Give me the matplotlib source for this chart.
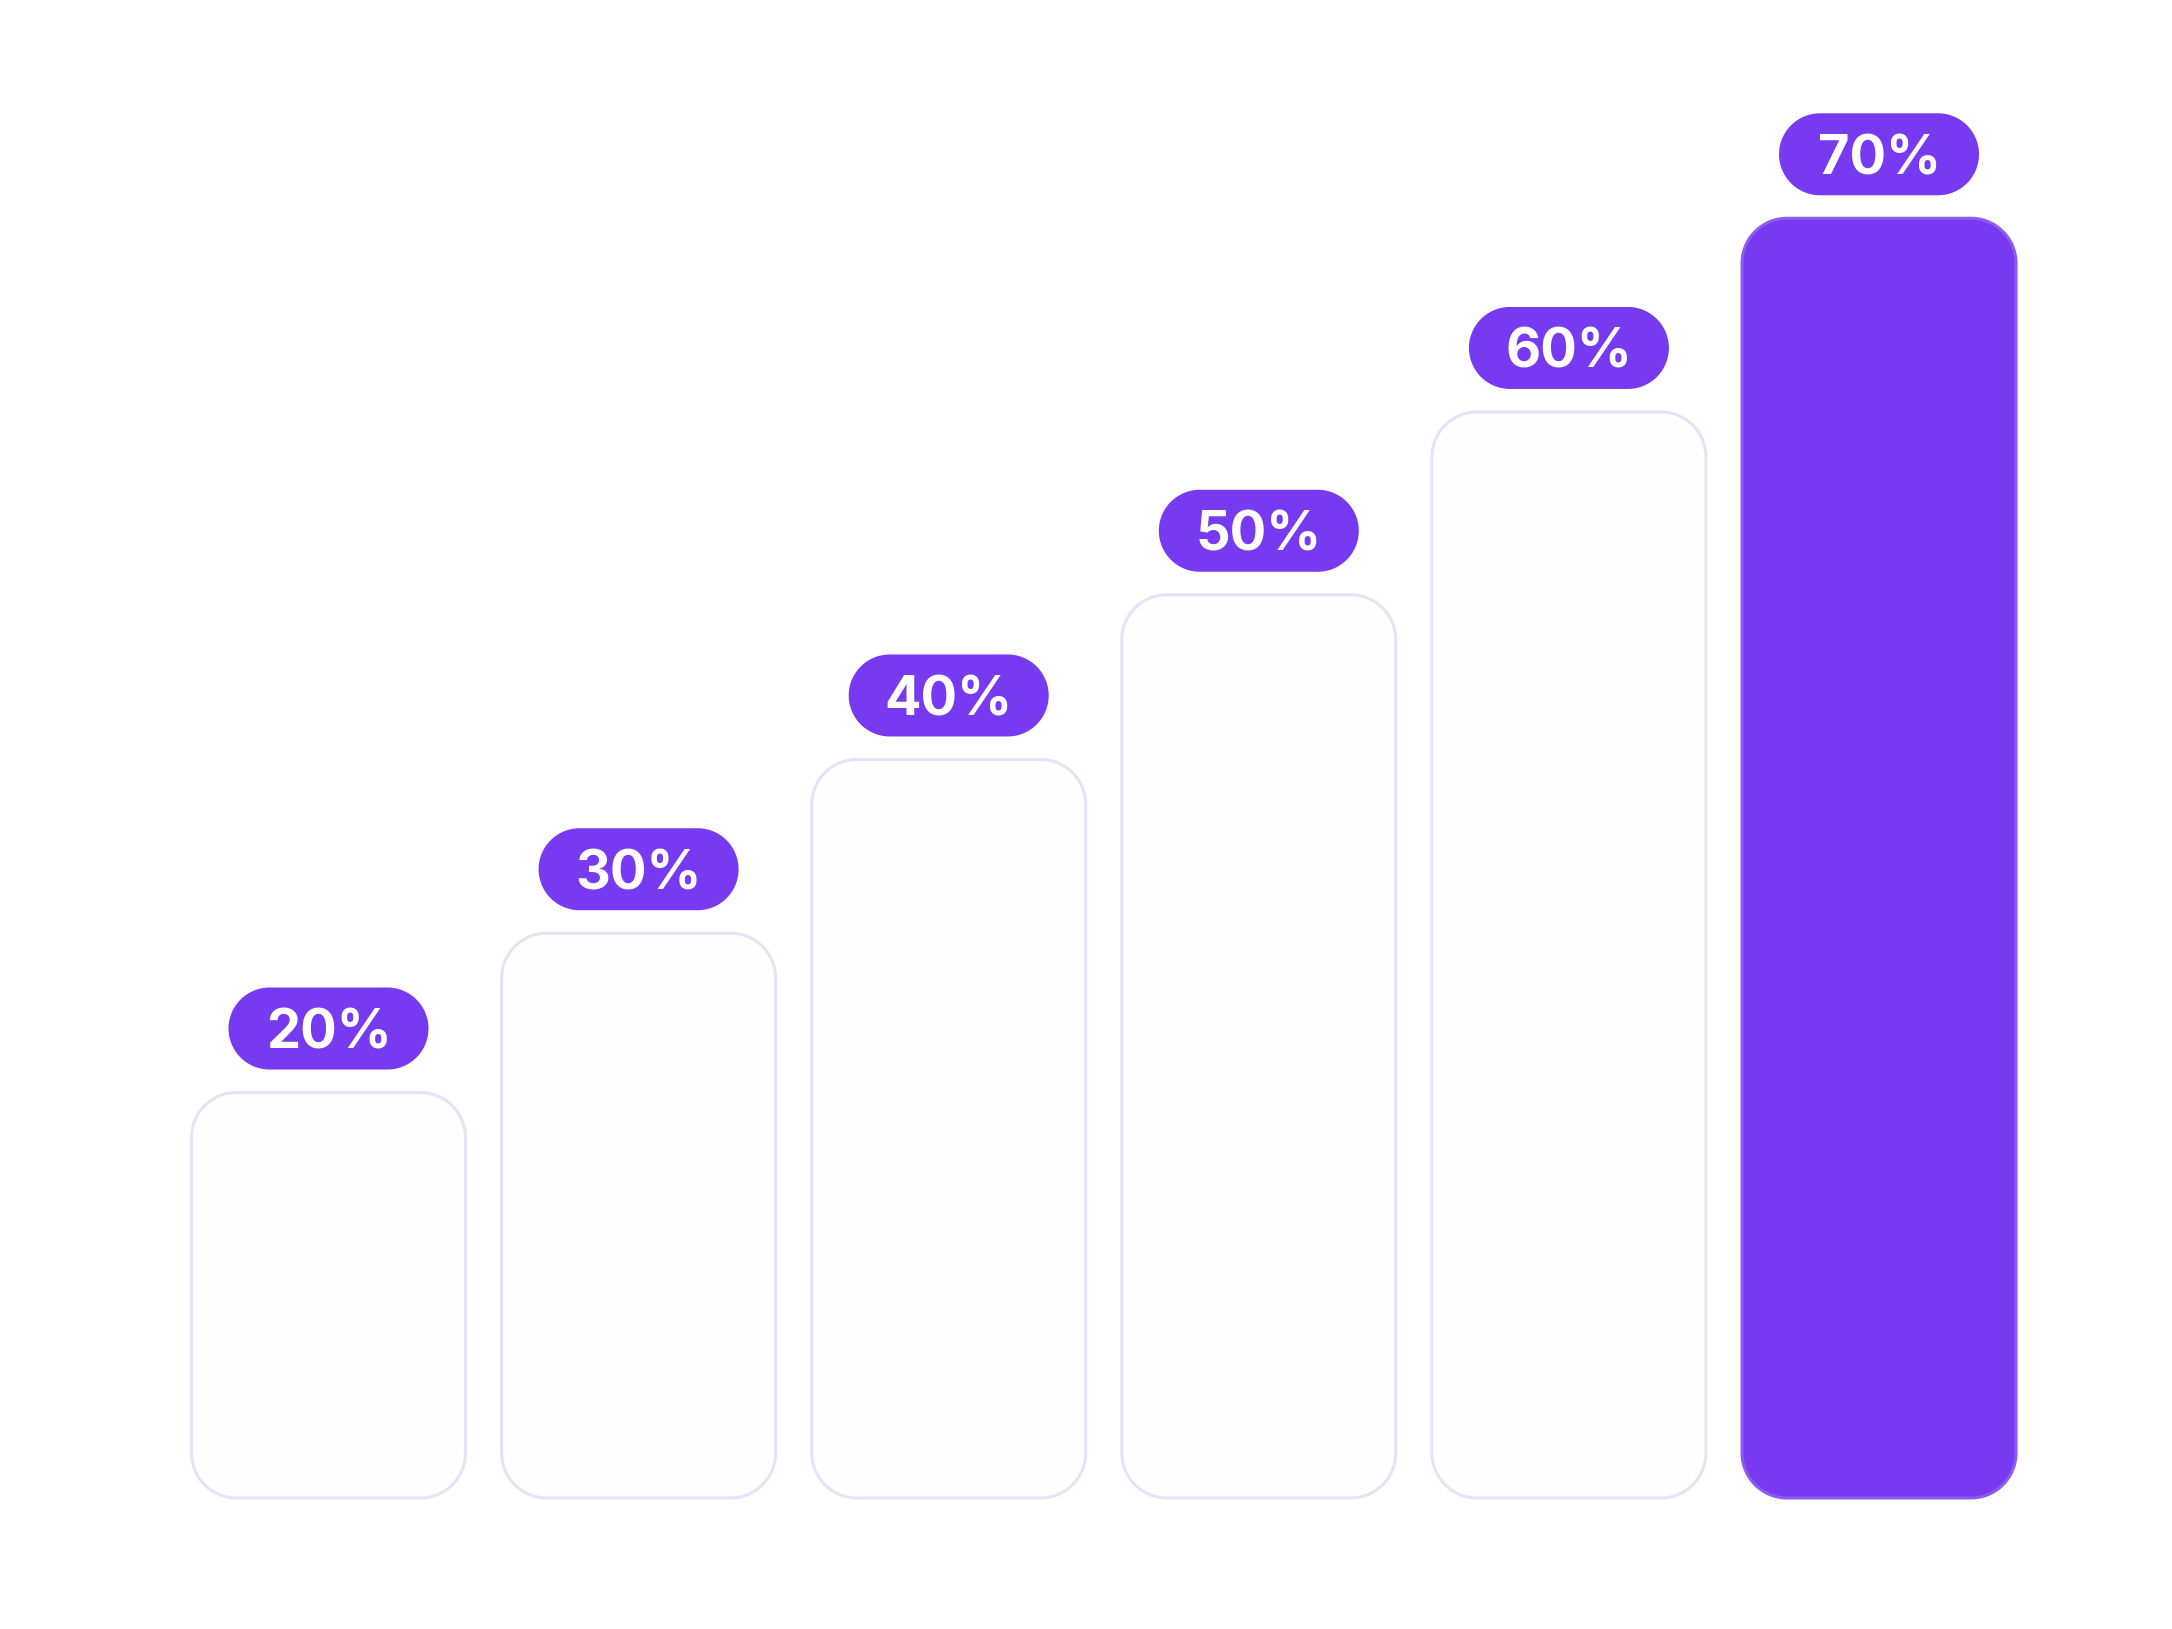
import numpy as np
import matplotlib.pyplot as plt
from matplotlib.patches import Polygon

# values shown on the labels
labels = ['20%', '30%', '40%', '50%', '60%', '70%']
# bar heights (not exactly proportional to the labels)
heights = [22.4, 31.2, 40.8, 49.9, 60.0, 70.7]
highlight = [False, False, False, False, False, True]

purple = '#783af0'
edge_light = '#e7e3f6'

W, H = 2172, 1629
fig = plt.figure(figsize=(W / 100, H / 100), dpi=100)
ax = fig.add_axes([0, 0, 1, 1])
xlim = (-1.0593, 5.9448)
ylim = (-7.24, 82.76)
ax.set_xlim(*xlim)
ax.set_ylim(*ylim)
ax.axis('off')

# data units per pixel, so that rounded corners stay circular
px_x = (xlim[1] - xlim[0]) / W
px_y = (ylim[1] - ylim[0]) / H


def rounded_box(x0, y0, w, h, r_px, **kw):
    rx, ry = r_px * px_x, r_px * px_y
    t = np.linspace(0, np.pi / 2, 30)
    pts = []
    for cx, cy, a0 in [(x0 + w - rx, y0 + h - ry, 0), (x0 + rx, y0 + h - ry, np.pi / 2),
                       (x0 + rx, y0 + ry, np.pi), (x0 + w - rx, y0 + ry, 1.5 * np.pi)]:
        pts += list(zip(cx + rx * np.cos(t + a0), cy + ry * np.sin(t + a0)))
    return Polygon(pts, closed=True, **kw)


bar_w = 274 * px_x
pill_w = 200 * px_x
pill_h = 82 * px_y

for i, (h, lab, hl) in enumerate(zip(heights, labels, highlight)):
    face = purple if hl else '#fefefe'
    edge = '#8d5af2' if hl else edge_light
    ax.add_patch(rounded_box(i - bar_w / 2, 0, bar_w, h, 45,
                             facecolor=face, edgecolor=edge, linewidth=2.2))

    cy = h + 64 * px_y
    ax.add_patch(rounded_box(i - pill_w / 2, cy - pill_h / 2, pill_w, pill_h, 41,
                             facecolor=purple, edgecolor='none'))
    ax.text(i, cy, lab, ha='center', va='center_baseline', color='white',
            fontsize=39, fontweight='bold', family=['Inter', 'DejaVu Sans'])

fig.savefig('out.png', dpi=100, facecolor='white')
